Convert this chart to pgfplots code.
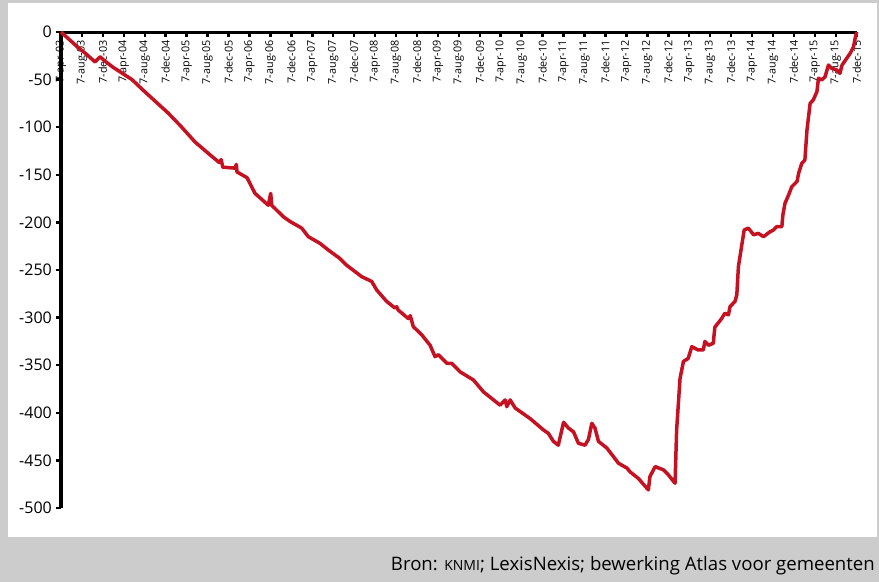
\documentclass[border=0pt]{standalone}
\usepackage{pgfplots}
\pgfplotsset{compat=1.18}
\usepackage{fontspec}
\setmainfont{Open Sans}
\definecolor{bggray}{RGB}{204,204,204}
\definecolor{linered}{RGB}{197,18,34}
\begin{document}
\begin{tikzpicture}
\useasboundingbox (0,0) rectangle (879bp,-582bp);
\fill[bggray] (0,0) rectangle (879bp,-582bp);
\fill[white] (8bp,-3bp) rectangle (877bp,-537bp);
\begin{axis}[
  at={(61bp,-32bp)}, anchor=north west,
  scale only axis, width=795.7bp, height=476bp,
  xmin=0, xmax=152, ymin=-500, ymax=0,
  clip=false,
  axis x line*=top, axis y line*=left,
  axis line style={-, line width=3bp, black},
  tick align=inside,
  major tick length=5bp,
  tick style={line width=2.5bp, black},
  y tick style={xshift=-5bp},
  xtick={0,4,...,152},
  xticklabels={7-apr-03,7-aug-03,7-dec-03,7-apr-04,7-aug-04,7-dec-04,7-apr-05,7-aug-05,7-dec-05,7-apr-06,7-aug-06,7-dec-06,7-apr-07,7-aug-07,7-dec-07,7-apr-08,7-aug-08,7-dec-08,7-apr-09,7-aug-09,7-dec-09,7-apr-10,7-aug-10,7-dec-10,7-apr-11,7-aug-11,7-dec-11,7-apr-12,7-aug-12,7-dec-12,7-apr-13,7-aug-13,7-dec-13,7-apr-14,7-aug-14,7-dec-14,7-apr-15,7-aug-15,7-dec-15},
  x tick label style={yshift=-8bp, rotate=90, anchor=east, inner sep=0bp, font=\fontsize{10.8bp}{13bp}\selectfont},
  ytick={-500,-450,-400,-350,-300,-250,-200,-150,-100,-50,0},
  yticklabels={-500,-450,-400,-350,-300,-250,-200,-150,-100,-50,0},
  y tick label style={anchor=east, xshift=-8bp, inner sep=1bp, font=\fontsize{16bp}{18bp}\selectfont},
]
\addplot[linered, line width=3.5bp, line join=round] coordinates {
(0,0) (3,-15) (5,-24) (6.5,-31.5) (7.45,-26) (8.5,-31) (9.93,-37) (13.56,-50) (15.66,-61)
(20.44,-85) (22.73,-98) (25.6,-115.5) (28.46,-129) (30.2,-137) (30.6,-134) (30.9,-142)
(33.24,-143) (33.5,-139) (33.62,-147) (35.53,-153) (37.06,-169.5) (39.6,-182) (40.06,-169.5)
(40.25,-182) (42.46,-194) (43.74,-199) (45.98,-206) (47.24,-215) (49.47,-222) (51.06,-229)
(53.3,-238) (54.57,-245) (57.44,-257) (59.35,-262) (60.3,-271) (62.21,-283) (63.8,-290)
(64.12,-288.5) (64.4,-292) (66.34,-301) (66.72,-298) (67.3,-309.5) (68.9,-318) (70.5,-329)
(71.45,-341) (72.1,-339) (73.7,-348) (74.65,-348) (76.24,-357) (78.78,-365.5) (80.7,-378)
(83.88,-392) (84.84,-386.5) (85.16,-393.6) (85.8,-386.5) (86.76,-395) (89.6,-406)
(92.16,-418) (93.1,-421.6) (94.06,-430) (95.0,-434) (96,-410) (96.93,-416) (97.9,-420)
(98.84,-432) (100.1,-434) (100.75,-428) (101.4,-411) (102,-416) (102.67,-430) (104.27,-437)
(106.5,-453) (108.1,-458) (108.7,-462) (110.3,-469) (112.2,-481) (112.5,-467) (113.5,-456.5)
(115.1,-460) (116,-465) (117.3,-474) (117.6,-418) (118.25,-364) (118.9,-346) (119.8,-343)
(120.5,-330.5) (121.7,-334) (122.7,-334) (123,-325) (123.7,-329) (124.6,-327) (124.9,-310)
(126.2,-301) (126.8,-295.5) (127.5,-297) (127.8,-288.5) (128.75,-283) (129.1,-276)
(129.4,-246.5) (130,-225.5) (130.5,-208) (131.3,-206) (132.3,-213) (133.2,-211.5)
(134.2,-215) (135.4,-210) (136.1,-208) (136.7,-204.5) (137.7,-204.5) (137.9,-192)
(138.3,-180) (139,-171) (139.6,-162.5) (140.6,-157) (140.9,-148.5) (141.5,-138)
(142.1,-134.5) (142.5,-103) (142.8,-89) (143.1,-75) (143.7,-71.4) (144.4,-62.7)
(144.7,-48.6) (145.3,-50.4) (145.96,-47) (146.6,-34.7) (147.2,-38) (148.2,-40)
(148.8,-43.4) (149.2,-34.7) (150.1,-27.6) (150.75,-22.4) (151.4,-15.4) (151.7,-6.6) (152,0)
};
\end{axis}
\node[anchor=east, inner sep=0pt, font=\fontsize{18.6bp}{21bp}\selectfont] at (875bp,-566bp)
  {Bron: {\fontsize{14bp}{16bp}\selectfont KNMI}; LexisNexis; bewerking Atlas voor gemeenten};
\end{tikzpicture}
\end{document}
